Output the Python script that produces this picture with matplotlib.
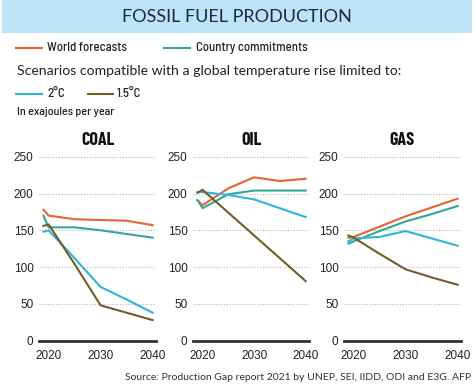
import matplotlib
matplotlib.use("Agg")
import matplotlib.pyplot as plt
from matplotlib.patches import Rectangle
from matplotlib.lines import Line2D

W, H = 474, 390
years = [2019, 2020, 2025, 2030, 2035, 2040]
fuels = ["COAL", "OIL", "GAS"]

coal_world = [178, 170, 165, 164, 163, 157]
coal_country = [170, 154, 154, 150, 145, 140]
coal_2c = [148, 150, 112, 73, 56, 38]
coal_15c = [156, 158, 104, 48, 38, 28]

oil_world = [191, 184, 207, 222, 217, 220]
oil_country = [191, 180, 199, 204, 204, 204]
oil_2c = [202, 202, 198, 192, 180, 168]
oil_15c = [201, 205, 174, 143, 112, 81]

gas_world = [140, 141, 155, 169, 181, 193]
gas_country = [132, 135, 149, 162, 172, 183]
gas_2c = [135, 139, 141, 149, 139, 129]
gas_15c = [143, 140, 118, 97, 86, 76]

yticks = [0, 50, 100, 150, 200, 250]
xticks = [2020, 2030, 2040]

C_WORLD = "#e8642f"
C_COUNTRY = "#38a39a"
C_2C = "#2cb6da"
C_15C = "#6f5d2a"
TXT = "#222222"

NARROW = ["Barlow Semi Condensed", "DejaVu Sans"]
BOLDC = ["Barlow Condensed", "DejaVu Sans"]
SANS = ["Lato", "DejaVu Sans"]

fig = plt.figure(figsize=(W / 100, H / 100), dpi=100)
fig.patch.set_facecolor("white")

def fx(x):
    return x / W

def fy(y):
    return 1 - y / H

# Banner
fig.patches.append(Rectangle((fx(2), fy(33)), fx(470), 33 / H, transform=fig.transFigure,
                             facecolor="#bde3f6", edgecolor="none", zorder=0))
fig.text(fx(237), fy(17), "FOSSIL FUEL PRODUCTION", ha="center", va="center",
         fontsize=13, color="#1d2a38", family=SANS)

def legend_line(x0, x1, y, color):
    fig.lines.append(Line2D([fx(x0), fx(x1)], [fy(y), fy(y)], transform=fig.transFigure,
                            color=color, lw=1.5))

LEG = dict(ha="left", va="center", fontsize=9.2, color=TXT, family=NARROW, fontweight=500)
legend_line(16, 42, 48, C_WORLD)
fig.text(fx(47), fy(48), "World forecasts", **LEG)
legend_line(164, 190, 48, C_COUNTRY)
fig.text(fx(196), fy(48), "Country commitments", **LEG)
fig.text(fx(17), fy(71), "Scenarios compatible with a global temperature rise limited to:",
         ha="left", va="center", fontsize=10.1, color=TXT, family=SANS)
legend_line(16, 42, 94, C_2C)
fig.text(fx(47), fy(94), "2°C", **LEG)
legend_line(88, 113, 94, C_15C)
fig.text(fx(117), fy(94), "1.5°C", **LEG)
fig.text(fx(17), fy(112), "In exajoules per year", ha="left", va="center", fontsize=8.7,
         color=TXT, family=NARROW, fontweight=500)

panels = [
    (fuels[0], 39, 117, coal_world, coal_country, coal_2c, coal_15c, 98),
    (fuels[1], 193, 116, oil_world, oil_country, oil_2c, oil_15c, 251),
    (fuels[2], 344, 117, gas_world, gas_country, gas_2c, gas_15c, 402),
]

ytop = 255
y0px = 340.7
pxu = 0.736
top_px = y0px - ytop * pxu

for name, left, width, w, c, s2, s15, tx in panels:
    ax = fig.add_axes([fx(left), fy(y0px), width / W, (y0px - top_px) / H])
    ax.set_xlim(2018.15, 2040.65)
    ax.set_ylim(0, ytop)
    for v in yticks[1:]:
        ax.axhline(v, color="#b5b5b5", lw=0.8, ls=(0, (1, 1.5)), zorder=1)
    ax.plot(years, w, color=C_WORLD, lw=1.5, zorder=3)
    ax.plot(years, c, color=C_COUNTRY, lw=1.5, zorder=3)
    ax.plot(years, s2, color=C_2C, lw=1.5, zorder=3)
    ax.plot(years, s15, color=C_15C, lw=1.5, zorder=3)
    for sp in ["top", "right", "left"]:
        ax.spines[sp].set_visible(False)
    ax.spines["bottom"].set_color("#333333")
    ax.spines["bottom"].set_linewidth(2.0)
    ax.set_yticks(yticks)
    ax.set_xticks(xticks)
    ax.tick_params(axis="both", length=0, labelsize=8.5, colors=TXT)
    ax.tick_params(axis="y", pad=4)
    ax.tick_params(axis="x", pad=7)
    for lab in ax.get_xticklabels() + ax.get_yticklabels():
        lab.set_family(["Liberation Sans", "DejaVu Sans"])
    ax.set_facecolor("none")
    fig.text(fx(tx), fy(140), name, ha="center", va="center", fontsize=13,
             fontweight="bold", color="#111111", family=BOLDC)

fig.text(fx(471), fy(377), "Source: Production Gap report 2021 by UNEP, SEI, IIDD, ODI and E3G. AFP",
         ha="right", va="center", fontsize=7.5, color="#333333", family=SANS)

fig.savefig("out.png", dpi=100)
